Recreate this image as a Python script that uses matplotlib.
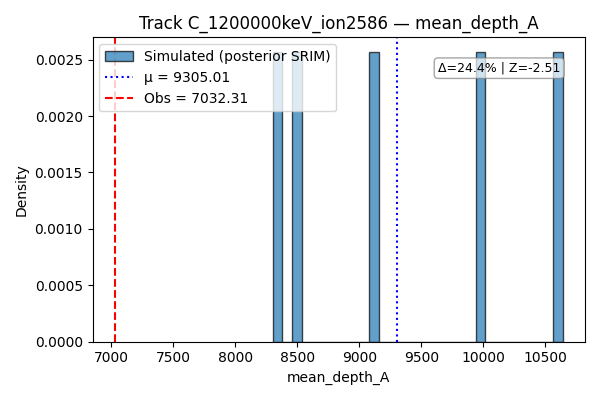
import matplotlib
matplotlib.use("Agg")
import matplotlib.pyplot as plt
import numpy as np

samples = [8303.0, 8471.0, 9112.0, 10001.0, 10638.05]
mu = 9305.01
obs = 7032.31
note = "Δ=24.4% | Z=-2.51"

fig, ax = plt.subplots(figsize=(6, 4), dpi=100)
ax.hist(samples, bins=30, density=True, alpha=0.7, color="tab:blue",
        edgecolor="black", label="Simulated (posterior SRIM)")
ax.axvline(mu, color="blue", linestyle=":", label=f"μ = {mu:.2f}")
ax.axvline(obs, color="red", linestyle="--", label=f"Obs = {obs:.2f}")
ax.text(0.95, 0.92, note, transform=ax.transAxes, ha="right", va="top", fontsize=9,
        bbox=dict(boxstyle="round", facecolor="white", alpha=0.7, edgecolor="gray"))
ax.set_title("Track C_1200000keV_ion2586 — mean_depth_A")
ax.set_xlabel("mean_depth_A")
ax.set_ylabel("Density")
ax.legend(loc="upper left")
fig.tight_layout()
fig.savefig("out.png")
